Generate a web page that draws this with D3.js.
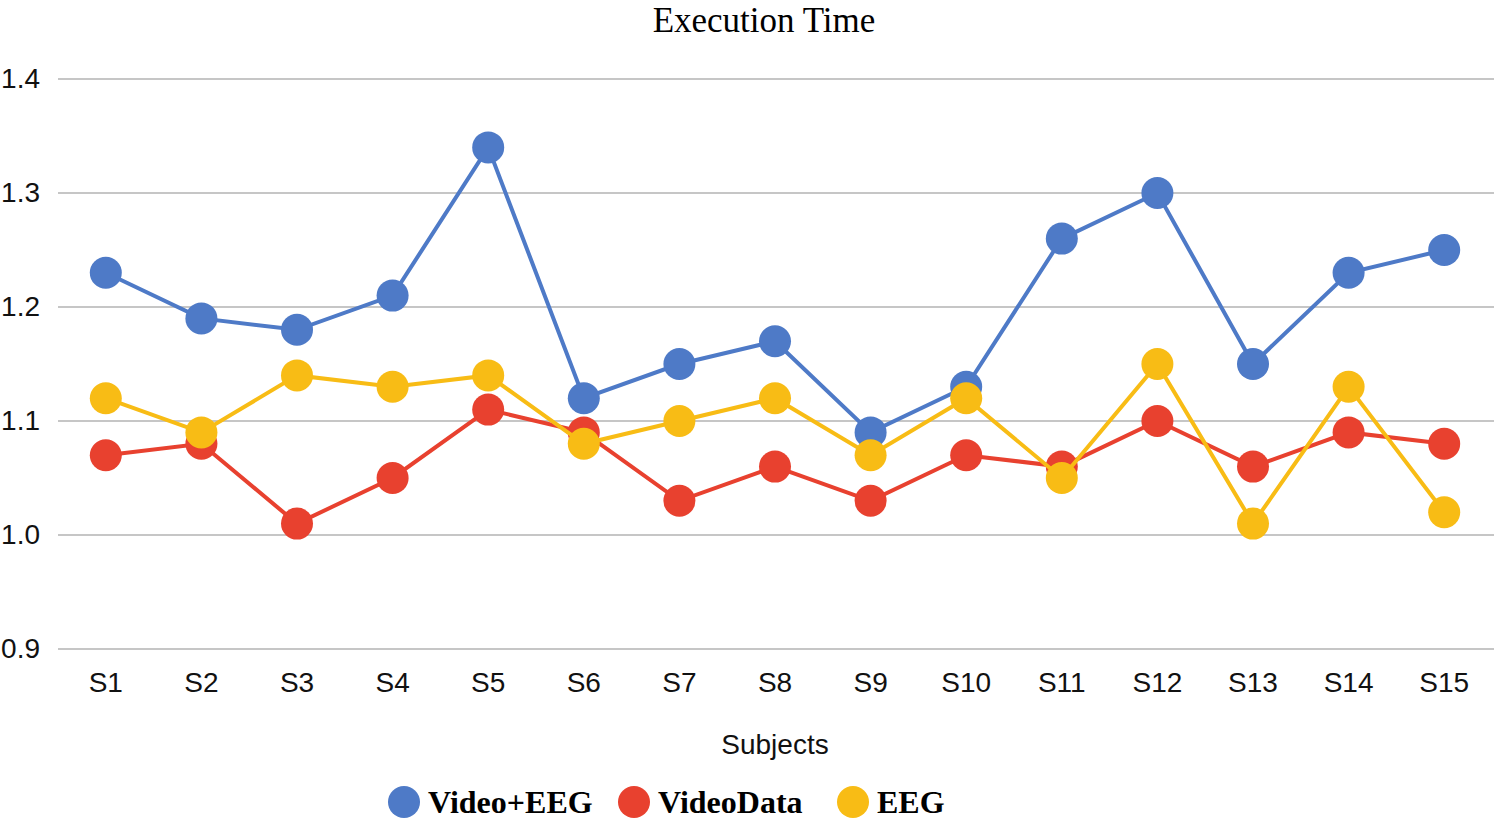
<!DOCTYPE html>
<html>
<head>
<meta charset="utf-8">
<script src="https://cdn.jsdelivr.net/npm/d3@7"></script>
<style>
  body { margin: 0; background: #fff; }
</style>
</head>
<body>
<svg id="chart"></svg>
<script>
const subjects = ["S1","S2","S3","S4","S5","S6","S7","S8","S9","S10","S11","S12","S13","S14","S15"];
const videoEeg = [1.23,1.19,1.18,1.21,1.34,1.12,1.15,1.17,1.09,1.13,1.26,1.30,1.15,1.23,1.25];
const videoData = [1.07,1.08,1.01,1.05,1.11,1.09,1.03,1.06,1.03,1.07,1.06,1.10,1.06,1.09,1.08];
const eeg = [1.12,1.09,1.14,1.13,1.14,1.08,1.10,1.12,1.07,1.12,1.05,1.15,1.01,1.13,1.02];
const yTicks = [0.9,1.0,1.1,1.2,1.3,1.4];
const seriesNames = ["Video+EEG","VideoData","EEG"];
const seriesColors = ["#4e7ac7","#e8412f","#f8bc15"];

const W = 1494, H = 822;
const margin = { top: 79, right: 2, bottom: 173, left: 58 };

const svg = d3.select("#chart").attr("width", W).attr("height", H);

const x = d3.scaleBand()
  .domain(subjects)
  .range([margin.left, W - margin.right])
  .padding(0);

const y = d3.scaleLinear()
  .domain([0.9, 1.4])
  .range([H - margin.bottom, margin.top]);

// gridlines
svg.append("g")
  .selectAll("line")
  .data(yTicks)
  .enter()
  .append("line")
  .attr("x1", margin.left)
  .attr("x2", W)
  .attr("y1", d => y(d))
  .attr("y2", d => y(d))
  .attr("stroke", "#c6c6c6")
  .attr("stroke-width", 2);

// y axis labels
const yAxis = d3.axisLeft(y).tickValues(yTicks).tickFormat(d3.format(".1f")).tickSize(0).tickPadding(18);
const gy = svg.append("g").attr("transform", `translate(${margin.left},0)`).call(yAxis);
gy.select(".domain").remove();
gy.selectAll("text")
  .style("font-family", "'Liberation Sans', Arial, sans-serif")
  .style("font-size", "28px")
  .attr("fill", "#111");

// x axis labels
const xAxis = d3.axisBottom(x).tickSize(0).tickPadding(23);
const gx = svg.append("g").attr("transform", `translate(0,${y(0.9)})`).call(xAxis);
gx.select(".domain").remove();
gx.selectAll("text")
  .style("font-family", "'Liberation Sans', Arial, sans-serif")
  .style("font-size", "28px")
  .attr("fill", "#111");

// title
svg.append("text")
  .attr("x", 764)
  .attr("y", 32)
  .attr("text-anchor", "middle")
  .style("font-family", "'Liberation Serif', 'Times New Roman', serif")
  .style("font-size", "35px")
  .text("Execution Time");

// x axis title
svg.append("text")
  .attr("x", 775)
  .attr("y", 754)
  .attr("text-anchor", "middle")
  .style("font-family", "'Liberation Sans', Arial, sans-serif")
  .style("font-size", "28px")
  .attr("fill", "#111")
  .text("Subjects");

// series
const allSeries = [videoEeg, videoData, eeg];
const line = d3.line()
  .x((d, i) => x(subjects[i]) + x.bandwidth() / 2)
  .y(d => y(d));

allSeries.forEach((vals, s) => {
  const g = svg.append("g");
  g.append("path")
    .attr("d", line(vals))
    .attr("fill", "none")
    .attr("stroke", seriesColors[s])
    .attr("stroke-width", 4);
  g.selectAll("circle")
    .data(vals)
    .enter()
    .append("circle")
    .attr("cx", (d, i) => x(subjects[i]) + x.bandwidth() / 2)
    .attr("cy", d => y(d))
    .attr("r", 16)
    .attr("fill", seriesColors[s]);
});

// legend
const legendX = [404, 634, 853];
const legend = svg.append("g");
seriesNames.forEach((name, i) => {
  legend.append("circle")
    .attr("cx", legendX[i])
    .attr("cy", 802)
    .attr("r", 16)
    .attr("fill", seriesColors[i]);
  legend.append("text")
    .attr("x", legendX[i] + 24)
    .attr("y", 813)
    .style("font-family", "'Liberation Serif', 'Times New Roman', serif")
    .style("font-size", "32px")
    .style("font-weight", "bold")
    .text(name);
});
</script>
</body>
</html>
